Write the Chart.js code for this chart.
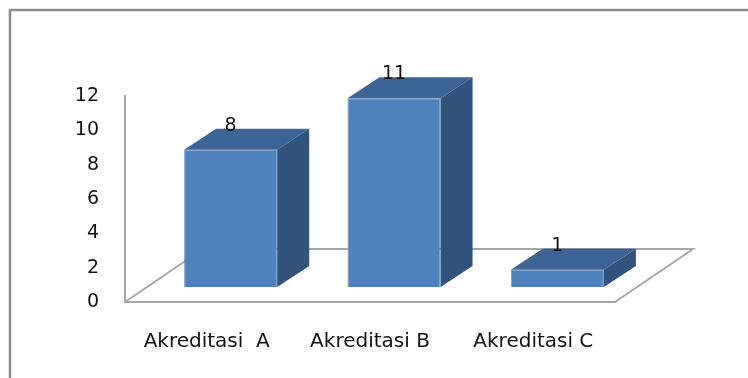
<!DOCTYPE html>
<html>
<head>
<meta charset="utf-8">
<script src="https://cdn.jsdelivr.net/npm/chart.js@4.4.1/dist/chart.umd.min.js"></script>
<style>
  html, body { margin: 0; padding: 0; background: #fff; }
  #wrap { width: 748px; height: 378px; position: relative; }
</style>
</head>
<body>
<div id="wrap"><canvas id="myChart"></canvas></div>
<script>
const categories = ["Akreditasi  A", "Akreditasi B", "Akreditasi C"];
const values = [8, 11, 1];
const yTicks = [0, 2, 4, 6, 8, 10, 12];

// fake 3d: front faces sit a little back on the floor, then get a top and a side
const barShift = { x: 24, y: -15 };
const barDepth = { x: 32, y: -21 };
const floorDepth = { x: 78, y: -53 };

const lineGray = '#a6a6a6';
const textFont = '"DejaVu Sans", "Open Sans", sans-serif';

let bars3d = {
    id: 'bars3d',
    beforeDraw(chart) {
        // frame round the whole chart
        const ctx = chart.ctx;
        ctx.save();
        ctx.strokeStyle = '#8c8c8c';
        ctx.lineWidth = 2.5;
        ctx.beginPath();
        ctx.moveTo(10, chart.height);
        ctx.lineTo(10, 10);
        ctx.lineTo(chart.width, 10);
        ctx.stroke();
        ctx.restore();
    },
    beforeDatasetsDraw(chart) {
        const { ctx, chartArea: a } = chart;
        // floor outline (front edges come from the axis borders)
        ctx.save();
        ctx.strokeStyle = lineGray;
        ctx.lineWidth = 2;
        ctx.beginPath();
        ctx.moveTo(a.left, a.bottom);
        ctx.lineTo(a.left + floorDepth.x, a.bottom + floorDepth.y);
        ctx.lineTo(a.right + floorDepth.x, a.bottom + floorDepth.y);
        ctx.lineTo(a.right, a.bottom);
        ctx.stroke();
        ctx.restore();
        ctx.save();
        ctx.translate(barShift.x, barShift.y);
    },
    afterDatasetsDraw(chart) {
        const ctx = chart.ctx;
        ctx.restore();
        const meta = chart.getDatasetMeta(0);
        const dx = barDepth.x, dy = barDepth.y;
        ctx.save();
        meta.data.forEach((bar, i) => {
            const p = bar.getProps(['x', 'y', 'base', 'width'], true);
            const l = p.x - p.width / 2 + barShift.x;
            const r = p.x + p.width / 2 + barShift.x;
            const t = p.y + barShift.y;
            const b = p.base + barShift.y;

            ctx.fillStyle = '#3c6494';
            ctx.beginPath();
            ctx.moveTo(l, t);
            ctx.lineTo(l + dx, t + dy);
            ctx.lineTo(r + dx, t + dy);
            ctx.lineTo(r, t);
            ctx.closePath();
            ctx.fill();

            ctx.fillStyle = '#31527b';
            ctx.beginPath();
            ctx.moveTo(r, t);
            ctx.lineTo(r + dx, t + dy);
            ctx.lineTo(r + dx, b + dy);
            ctx.lineTo(r, b);
            ctx.closePath();
            ctx.fill();

            ctx.fillStyle = '#111';
            ctx.font = '19px ' + textFont;
            ctx.textAlign = 'center';
            ctx.textBaseline = 'middle';
            ctx.fillText(String(values[i]), p.x + barShift.x, t - 24);
        });
        ctx.restore();
    }
};

let myChart = document.getElementById("myChart").getContext("2d");

let akreditasiChart = new Chart(myChart, {
    type: 'bar',
    data: {
        labels: categories,
        datasets: [{
            data: values,
            backgroundColor: '#4f81bd',
            borderColor: '#6f97c8',
            borderWidth: 1,
            categoryPercentage: 1,
            barPercentage: 0.57
        }]
    },
    plugins: [bars3d],
    options: {
        responsive: true,
        maintainAspectRatio: false,
        animation: false,
        layout: {
            padding: { left: 0, right: 133, top: 96, bottom: 0 }
        },
        plugins: {
            legend: { display: false },
            tooltip: { enabled: false }
        },
        scales: {
            y: {
                min: 0,
                max: 12,
                afterFit: function(scale) { scale.width = 125; },
                afterBuildTicks: function(scale) {
                    scale.ticks = yTicks.map(v => ({ value: v }));
                },
                grid: { display: false },
                border: { color: lineGray, width: 2 },
                ticks: {
                    padding: 18,
                    color: '#111',
                    font: { family: textFont, size: 19 }
                }
            },
            x: {
                afterFit: function(scale) { scale.height = 76; },
                grid: { display: false },
                border: { color: lineGray, width: 2 },
                ticks: {
                    padding: 20,
                    color: '#111',
                    font: { family: textFont, size: 20 }
                }
            }
        }
    }
});
</script>
</body>
</html>
